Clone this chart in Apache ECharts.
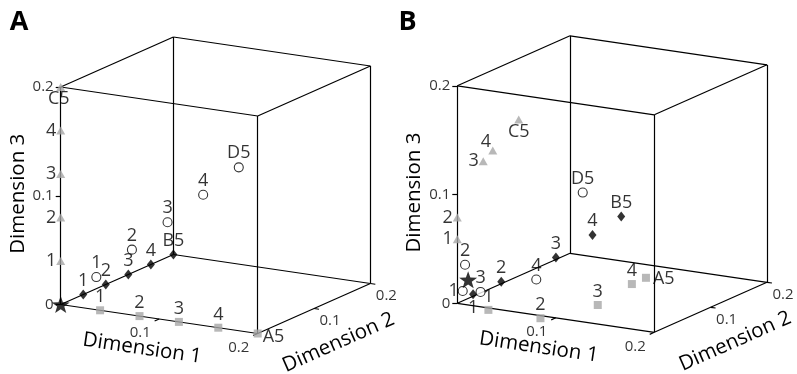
<!DOCTYPE html>
<html><head><meta charset="utf-8">
<script src="https://cdn.jsdelivr.net/npm/echarts@6/dist/echarts.min.js"></script>
<style>html,body{margin:0;padding:0;background:#fff}#c{width:797px;height:374px}</style>
</head><body><div id="c"></div>
<script>
// ---------- data ----------
const cubeMax = 0.2;
const zTicks = [0, 0.1, 0.2];
const zTickLabels = ['0', '0.1', '0.2'];
const hTicks = [0.1, 0.2];
const hTickLabels = ['0.1', '0.2'];
const axisNames = ['Dimension 1', 'Dimension 2', 'Dimension 3'];
const panelNames = ['A', 'B'];

const labelsSquare = ['1', '2', '3', '4', 'A5'];
const labelsDiamond = ['1', '2', '3', '4', 'B5'];
const labelsTriangle = ['1', '2', '3', '4', 'C5'];
const labelsCircle = ['1', '2', '3', '4', 'D5'];

// [dimension 1, dimension 2, dimension 3]
const aSquares = [[0.04, 0, 0], [0.08, 0, 0], [0.12, 0, 0], [0.16, 0, 0], [0.20, 0, 0]];
const aDiamonds = [[0, 0.04, 0], [0, 0.08, 0], [0, 0.12, 0], [0, 0.16, 0], [0, 0.20, 0]];
const aTriangles = [[0, 0, 0.04], [0, 0, 0.08], [0, 0, 0.12], [0, 0, 0.16], [0, 0, 0.20]];
const aCircles = [[0.023, 0.023, 0.023], [0.046, 0.046, 0.046], [0.069, 0.069, 0.069], [0.092, 0.092, 0.092], [0.115, 0.115, 0.115]];
const aStar = [[0, 0, 0]];

const bSquares = [[0.035, -0.006, 0], [0.089, -0.008, 0], [0.110, 0.057, 0], [0.100, 0.135, 0], [0.100, 0.160, 0]];
const bDiamonds = [[0, 0.028, 0.002], [0, 0.078, 0.002], [0, 0.175, 0.002], [0.04, 0.17, 0.029], [0.06, 0.186, 0.045]];
const bTriangles = [[0, 0, 0.059], [0, 0, 0.079], [0, 0.046, 0.120], [0, 0.063, 0.126], [0, 0.109, 0.144]];
const bCircles = [[0.0035, 0.0035, 0.011], [0.005, 0.005, 0.035], [0.015, 0.015, 0.009], [0.051, 0.051, 0.017], [0.081, 0.081, 0.094]];
const bStar = [[0.007, 0.007, 0.021]];

// ---------- projection (layout) ----------
const origins = [[60.7, 304.5], [457.3, 303.3]];
const vx = [197, 29], vy = [112.7, -50], vz = [0, -217.5];
function proj(p, v) {
  const o = origins[p], k = 1 / cubeMax;
  return [o[0] + k * (v[0] * vx[0] + v[1] * vy[0] + v[2] * vz[0]),
          o[1] + k * (v[0] * vx[1] + v[1] * vy[1] + v[2] * vz[1])];
}
const FONT = '"Open Sans", "DejaVu Sans", sans-serif';
const GRAY = '#a6a6a6';
const STAR = 'path://M0,-10 L2.35,-3.24 L9.51,-3.09 L3.8,1.24 L5.88,8.09 L0,4 L-5.88,8.09 L-3.8,1.24 L-9.51,-3.09 L-2.35,-3.24 Z';

function cubeEdges(p) {
  const e = [];
  const c = [0, cubeMax];
  for (const a of c) for (const b of c) {
    e.push({coords: [proj(p, [0, a, b]), proj(p, [cubeMax, a, b])]});
    e.push({coords: [proj(p, [a, 0, b]), proj(p, [a, cubeMax, b])]});
    e.push({coords: [proj(p, [a, b, 0]), proj(p, [a, b, cubeMax])]});
  }
  return e;
}
function tickMarks(p) {
  const e = [];
  const n = Math.hypot(vx[0], vx[1]), m = Math.hypot(vy[0], vy[1]);
  zTicks.forEach(t => { const q = proj(p, [0, 0, t]); e.push({coords: [q, [q[0] - 5, q[1]]]}); });
  hTicks.forEach(t => {
    const q = proj(p, [t, 0, 0]);
    e.push({coords: [q, [q[0] - 5 * vy[0] / m, q[1] - 5 * vy[1] / m]]});
    const r = proj(p, [cubeMax, t, 0]);
    e.push({coords: [r, [r[0] + 5 * vx[0] / n, r[1] + 5 * vx[1] / n]]});
  });
  return e;
}
const baseLabel = {show: true, fontSize: 18, fontFamily: FONT, color: '#000', distance: 0};
function markers(p, pts, labels, sym, pos, overrides) {
  return Object.assign({
    type: 'scatter', z: 5, silent: true,
    data: pts.map((v, i) => {
      const d = {value: proj(p, v)};
      const ov = (overrides && overrides[i]) || {};
      d.label = Object.assign({}, baseLabel, {position: pos, formatter: labels ? labels[i] : ''}, ov);
      if (!labels) d.label.show = false;
      return d;
    })
  }, sym);
}
const symSquare = {symbol: 'rect', symbolSize: 8, itemStyle: {color: GRAY}};
const symDiamond = {symbol: 'diamond', symbolSize: [8, 10], itemStyle: {color: '#000'}};
const symTriangle = {symbol: 'triangle', symbolSize: [9, 8], itemStyle: {color: GRAY}};
const symCircle = {symbol: 'circle', symbolSize: 9, itemStyle: {color: '#fff', borderColor: '#000', borderWidth: 1.1}};
const symStar = {symbol: STAR, symbolSize: 18, symbolKeepAspect: true, itemStyle: {color: '#000'}, z: 6};
const tickFont = {fontSize: 15, fontFamily: FONT, color: '#000'};

const series = [];
const graphics = [];
[0, 1].forEach(p => {
  series.push({type: 'lines', coordinateSystem: 'cartesian2d', silent: true, z: 1,
    lineStyle: {color: '#000', width: 1.2, opacity: 1, curveness: 0}, data: cubeEdges(p).concat(tickMarks(p))});
  // tick labels
  series.push({type: 'scatter', silent: true, symbolSize: 0, z: 3,
    data: zTicks.map((t, i) => ({value: proj(p, [0, 0, t]), label: Object.assign({show: true, position: 'left', distance: 7, formatter: zTickLabels[i]}, tickFont)}))
      .concat(hTicks.map((t, i) => ({value: proj(p, [t, 0, 0]), label: Object.assign({show: true, position: 'inside', offset: [-19, 14], formatter: hTickLabels[i]}, tickFont)})))
      .concat(hTicks.map((t, i) => ({value: proj(p, [cubeMax, t, 0]), label: Object.assign({show: true, position: 'inside', offset: [16, 12], formatter: hTickLabels[i]}, tickFont)})))
  });
  const o1 = proj(p, [cubeMax / 2, 0, 0]), o2 = proj(p, [cubeMax, cubeMax / 2, 0]), o3 = proj(p, [0, 0, cubeMax / 2]);
  graphics.push({type: 'text', x: o1[0] - 17, y: o1[1] + 29.5, rotation: -Math.atan2(vx[1], vx[0]),
    style: {text: axisNames[0], fontSize: 20.5, fontFamily: FONT, fill: '#000', align: 'center', verticalAlign: 'middle'}});
  graphics.push({type: 'text', x: o2[0] + 24.5, y: o2[1] + 34, rotation: Math.atan2(-vy[1], vy[0]),
    style: {text: axisNames[1], fontSize: 20.5, fontFamily: FONT, fill: '#000', align: 'center', verticalAlign: 'middle'}});
  graphics.push({type: 'text', x: o3[0] - 43, y: o3[1] - 2, rotation: Math.PI / 2,
    style: {text: axisNames[2], fontSize: 20.5, fontFamily: FONT, fill: '#000', align: 'center', verticalAlign: 'middle'}});
  graphics.push({type: 'text', x: p === 0 ? 19 : 407.5, y: 22,
    style: {text: panelNames[p], fontSize: 27, fontWeight: 'bold', fontFamily: FONT, fill: '#000', align: 'center', verticalAlign: 'middle'}});
});

// panel A
series.push(markers(0, aSquares, labelsSquare, symSquare, 'top', {4: {position: 'right', distance: 1, offset: [0, 3]}}));
series.push(markers(0, aDiamonds, labelsDiamond, symDiamond, 'top'));
series.push(markers(0, aTriangles, labelsTriangle, symTriangle, 'left', {4: {position: 'bottom', distance: -1, offset: [-2, 0]}}));
series.push(markers(0, aCircles, labelsCircle, symCircle, 'top'));
series.push(markers(0, aStar, null, symStar, 'top'));
// panel B
series.push(markers(1, bSquares, labelsSquare, symSquare, 'top', {4: {position: 'right', distance: 3, offset: [0, 1]}}));
series.push(markers(1, bDiamonds, labelsDiamond, symDiamond, 'top', {0: {position: 'bottom', distance: 0}}));
series.push(markers(1, bTriangles, labelsTriangle, symTriangle, 'left', {3: {position: 'top', offset: [-7, 4]}, 4: {position: 'bottom', distance: -1}}));
series.push(markers(1, bCircles, labelsCircle, symCircle, 'top', {0: {position: 'left', distance: -1}}));
series.push(markers(1, bStar, null, symStar, 'top'));

const chart = echarts.init(document.getElementById('c'), null, {renderer: 'canvas'});
chart.setOption({
  animation: false,
  backgroundColor: '#fff',
  grid: {left: 0, right: 0, top: 0, bottom: 0},
  xAxis: {type: 'value', min: 0, max: 797, show: false},
  yAxis: {type: 'value', min: 0, max: 374, inverse: true, show: false},
  graphic: graphics,
  series: series
});
</script></body></html>
